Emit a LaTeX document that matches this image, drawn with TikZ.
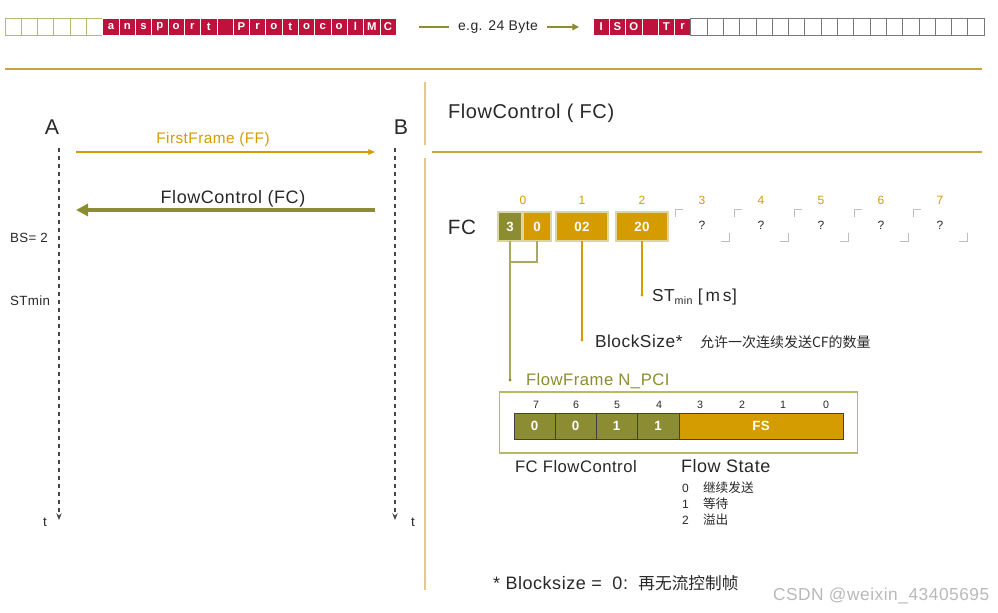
\documentclass[tikz,border=0pt]{standalone}
\usepackage{fontspec}
\setmainfont{Liberation Sans}[LetterSpace=3]
\newfontfamily\cjk{Noto Sans CJK SC}
\usetikzlibrary{arrows.meta,calc}
\definecolor{crimson}{RGB}{190,18,60}
\definecolor{gold}{RGB}{212,156,0}
\definecolor{olivec}{RGB}{140,140,50}
\definecolor{linegold}{RGB}{200,165,60}
\definecolor{divgold}{RGB}{224,204,130}
\definecolor{pale}{RGB}{222,214,160}
\definecolor{txt}{RGB}{40,40,40}
\definecolor{greenedge}{RGB}{175,190,110}
\definecolor{grayedge}{RGB}{120,120,120}
\definecolor{lifegray}{RGB}{70,70,70}
\definecolor{boxedge}{RGB}{185,185,100}
\definecolor{cornergray}{RGB}{190,190,190}
\definecolor{wmark}{RGB}{185,185,185}
\tikzset{
  cellbox/.style={minimum width=12.2pt, minimum height=12.75pt, inner sep=0pt, outer sep=0pt},
  redcell/.style={cellbox, fill=crimson, draw=white, line width=0.5pt, text=white, font=\bfseries\fontsize{8.5}{9}\selectfont},
  greencell/.style={cellbox, draw=greenedge, line width=0.7pt},
  graycell/.style={cellbox, draw=grayedge, line width=0.7pt},
  lifeline/.style={draw=lifegray, line width=1.1pt, dash pattern=on 3pt off 3pt, -{Stealth[length=5pt,width=4pt]}},
  bytebox/.style={draw=pale, line width=1.5pt, minimum height=21.75pt, inner sep=0pt, text=white, font=\bfseries\fontsize{10}{12}\selectfont},
  qcell/.style={minimum width=40.5pt, minimum height=24pt, inner sep=0pt, font=\fontsize{9}{11}\selectfont},
  idx/.style={text=gold, font=\fontsize{9}{11}\selectfont},
  bitcell/.style={draw=black!75, line width=0.6pt, minimum height=19.5pt, inner sep=0pt, text=white, font=\bfseries\fontsize{10}{12}\selectfont},
  bitnum/.style={font=\fontsize{8}{10}\selectfont},
  conn/.style={line width=1.1pt},
  corner/.style={draw=cornergray, line width=0.7pt},
}
\begin{document}
\begin{tikzpicture}[x=0.75pt,y=-0.75pt, every node/.style={inner sep=0pt, outer sep=0pt, text=txt}]
\useasboundingbox (0,0) rectangle (998,613);

% ---------- top bar ----------
\foreach \i in {0,...,5} \node[greencell] (L\i) at ({5+16.3*\i+8.15},26.5) {};
\foreach \l [count=\i from 6] in {a,n,s,p,o,r,t,{},P,r,o,t,o,c,o,l,M,C}
  \node[redcell] (L\i) at ({5+16.3*\i+8.15},26.5) {\l};
\foreach \l [count=\i from 0] in {I,S,O,{},T,r}
  \node[redcell] (R\i) at ({593+16.3*\i+8.15},26.5) {\l};
\foreach \i in {6,...,23} \node[graycell] (R\i) at ({593+16.3*\i+8.15},26.5) {};

\node[font=\fontsize{10.5}{12}\selectfont] (eg) at (498,27) {e.g. 24 Byte};
\coordinate (egL) at (419,27);
\coordinate (egR) at (579,27);
\draw[olivec, line width=1.1pt] (egL) -- ([xshift=-7pt]eg.west);
\draw[olivec, line width=1.1pt, -{Triangle[length=5pt,width=5pt]}] ([xshift=7pt]eg.east) -- (egR);

% ---------- separators ----------
\coordinate (h1a) at (5,69);   \coordinate (h1b) at (982,69);
\coordinate (h2a) at (432,152); \coordinate (h2b) at (982,152);
\coordinate (v1a) at (425,82);  \coordinate (v1b) at (425,145);
\coordinate (v2a) at (425,158); \coordinate (v2b) at (425,590);
\draw[linegold, line width=1.1pt] (h1a) -- (h1b);
\draw[linegold, line width=1.1pt] (h2a) -- (h2b);
\draw[divgold, line width=1.1pt] (v1a) -- (v1b);
\draw[divgold, line width=1.1pt] (v2a) -- (v2b);

% ---------- left: sequence ----------
\node[font=\fontsize{16}{18}\selectfont] (A) at (52,127) {A};
\node[font=\fontsize{16}{18}\selectfont] (B) at (401,127) {B};
\coordinate (Atop) at (59,148); \coordinate (Abot) at (59,520);
\coordinate (Btop) at (395,148); \coordinate (Bbot) at (395,520);
\draw[lifeline] (Atop) -- (Abot);
\draw[lifeline] (Btop) -- (Bbot);
\node[font=\fontsize{10}{12}\selectfont] (tA) at (45,522) {t};
\node[font=\fontsize{10}{12}\selectfont] (tB) at (413,522) {t};

\node[text=gold, font=\fontsize{11.5}{13}\selectfont] (ff) at (213,140) {FirstFrame (FF)};
\coordinate (ffL) at (76,152); \coordinate (ffR) at (375,152);
\draw[gold, line width=1.5pt, -{Triangle[length=5pt,width=4pt]}] (ffL) -- (ffR);

\node[font=\fontsize{13.5}{16}\selectfont] (fcl) at (233,199) {FlowControl (FC)};
\coordinate (fcR) at (375,210); \coordinate (fcL) at (76,210);
\draw[olivec, line width=3.2pt, -{Triangle[length=9pt,width=9pt]}] (fcR) -- (fcL);

\node[font=\fontsize{10}{12}\selectfont, anchor=west] (bs) at (10,238) {BS= 2};
\node[font=\fontsize{10}{12}\selectfont, anchor=west] (stm) at (10,301) {STmin};

% ---------- right ----------
\node[font=\fontsize{15}{18}\selectfont, anchor=west] (title) at (448,113) {FlowControl ( FC)};
\node[font=\fontsize{15.5}{18}\selectfont] (FC) at (462,227) {FC};

\node[bytebox, fill=olivec, minimum width=18pt] (b3) at (510,226.5) {3};
\node[bytebox, fill=gold, minimum width=20.5pt] (b0) at (537,226.5) {0};
\node[bytebox, fill=gold, minimum width=39.5pt] (b02) at (582,226.5) {02};
\node[bytebox, fill=gold, minimum width=39pt] (b20) at (642,226.5) {20};

\node[idx] (i0) at (523,200) {0};
\node[idx] (i1) at (582,200) {1};
\node[idx] (i2) at (642,200) {2};
\foreach \k/\x in {3/702,4/761,5/821,6/881,7/940}{
  \node[idx] (i\k) at (\x,200) {\k};
  \node[qcell] (q\k) at (\x,225) {?};
  \draw[corner] ([yshift=-6pt]q\k.north west) |- ([xshift=6pt]q\k.north west);
  \draw[corner] ([yshift=6pt]q\k.south east) |- ([xshift=-6pt]q\k.south east);
}

\coordinate (dFF) at (510,380);
\coordinate (dBS) at (582,340);
\coordinate (dST) at (642,295);
\draw[olivec!75, conn] (b3.south) -- (dFF);
\draw[olivec!75, conn] (b0.south) |- (b3.south |- 0,262);
\draw[gold, conn] (b02.south) -- (dBS);
\draw[gold, conn] (b20.south) -- (dST);
\fill[olivec] (dFF) circle (1.3pt);
\fill[gold] (dBS) circle (1.3pt);
\fill[gold] (dST) circle (1.3pt);

\node[anchor=west, font=\fontsize{13}{15}\selectfont] (stl) at (652,297) {ST\raisebox{-0.35ex}{\fontsize{8}{9}\selectfont min} [\,m\,s]};
\node[anchor=west, font=\fontsize{13}{15}\selectfont] (bsl) at (595,341) {BlockSize*};
\node[anchor=west, font=\cjk\fontsize{10.5}{13}\selectfont] (bscn) at (700,342) {允许一次连续发送CF的数量};
\node[anchor=west, text=olivec, font=\fontsize{12.5}{15}\selectfont] (ffl) at (526,381) {FlowFrame N\_PCI};

\node[draw=boxedge, line width=1.2pt, minimum width=268.5pt, minimum height=45.75pt] (npci) at (678.5,422.5) {};
\node[bitcell, fill=olivec, minimum width=30.75pt] (bit7) at (534.5,426) {0};
\node[bitcell, fill=olivec, minimum width=30.75pt] (bit6) at (575.5,426) {0};
\node[bitcell, fill=olivec, minimum width=30.75pt] (bit5) at (616.5,426) {1};
\node[bitcell, fill=olivec, minimum width=31.5pt] (bit4) at (658,426) {1};
\node[bitcell, fill=gold, minimum width=123pt] (fs) at (761,426) {FS};
\foreach \n/\x in {7/536,6/576,5/617,4/659,3/700,2/742,1/783,0/826}
  \node[bitnum] (bn\n) at (\x,405) {\n};

\node[anchor=west, font=\fontsize{12.5}{15}\selectfont] (fcfc) at (515,467) {FC FlowControl};
\node[anchor=west, font=\fontsize{13.5}{15}\selectfont] (fst) at (681,466) {Flow State};
\node[anchor=west, font=\fontsize{9}{11}\selectfont] (s0) at (682,488) {0};
\node[anchor=west, font=\cjk\fontsize{9.5}{11}\selectfont] (s0t) at (703,488) {继续发送};
\node[anchor=west, font=\fontsize{9}{11}\selectfont] (s1) at (682,504) {1};
\node[anchor=west, font=\cjk\fontsize{9.5}{11}\selectfont] (s1t) at (703,504) {等待};
\node[anchor=west, font=\fontsize{9}{11}\selectfont] (s2) at (682,520) {2};
\node[anchor=west, font=\cjk\fontsize{9.5}{11}\selectfont] (s2t) at (703,520) {溢出};

\node[anchor=west, font=\fontsize{13.5}{15}\selectfont] (note) at (493,583) {* Blocksize =\; 0:\, {\cjk\fontsize{12.5}{15}\selectfont 再无流控制帧}};
\node[anchor=west, text=wmark, font=\fontsize{13}{15}\selectfont] (wm) at (773,596) {CSDN @weixin\_43405695};
\end{tikzpicture}
\end{document}
